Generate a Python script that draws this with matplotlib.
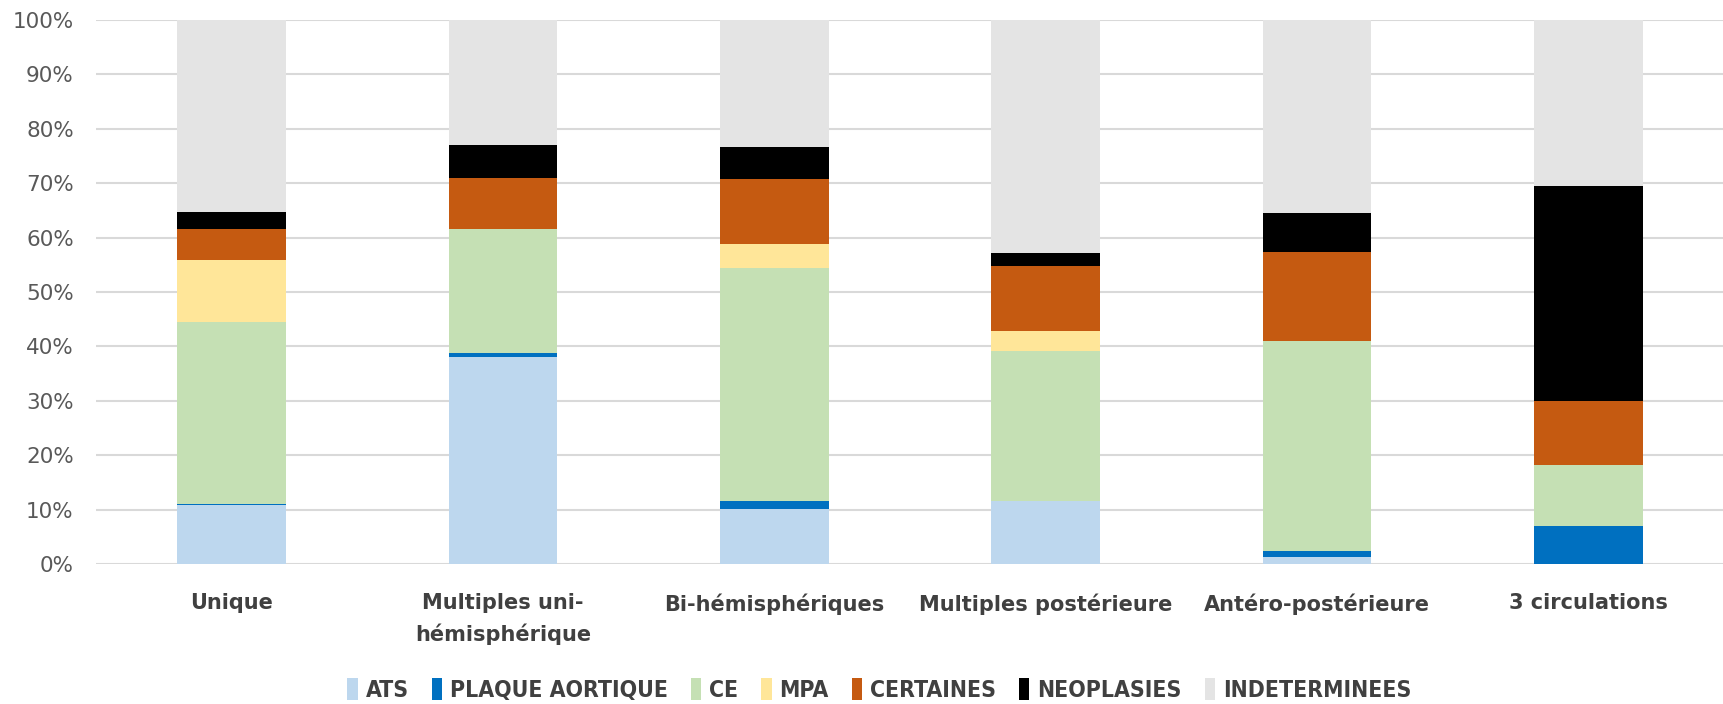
import matplotlib
matplotlib.use("Agg")
import matplotlib.pyplot as plt
import numpy as np
from matplotlib.ticker import FuncFormatter

categories = ["Unique", "Multiples uni-\nhémisphérique", "Bi-hémisphériques",
              "Multiples postérieure", "Antéro-postérieure", "3 circulations"]
series_names = ["ATS", "PLAQUE AORTIQUE", "CE", "MPA", "CERTAINES", "NEOPLASIES", "INDETERMINEES"]
ats         = [10.8, 38.1, 10.1, 11.6, 1.2, 0.0]
plaque      = [0.3, 0.7, 1.5, 0.0, 1.2, 6.9]
ce          = [33.3, 22.8, 42.8, 27.6, 38.6, 11.2]
mpa         = [11.4, 0.0, 4.4, 3.7, 0.0, 0.0]
certaines   = [5.7, 9.3, 11.9, 11.9, 16.3, 11.8]
neoplasies  = [3.2, 6.2, 5.9, 2.3, 7.2, 39.6]
indet       = [35.3, 22.9, 23.4, 42.9, 35.5, 30.5]
colors = ["#BDD7EE", "#0070C0", "#C5E0B4", "#FFE699", "#C55A11", "#000000", "#E4E4E4"]

data = [ats, plaque, ce, mpa, certaines, neoplasies, indet]

fig = plt.figure(figsize=(17.24, 7.04), dpi=100)
ax = fig.add_axes([0.0557, 0.199, 0.9443, 0.7726])

x = np.arange(len(categories))
bottom = np.zeros(len(categories))
handles = []
for name, vals, col in zip(series_names, data, colors):
    v = np.array(vals, dtype=float)
    h = ax.bar(x, v, 0.4, bottom=bottom, color=col, label=name, zorder=3, linewidth=0)
    handles.append(h)
    bottom += v

ax.set_xlim(-0.5, len(categories) - 0.5)
ax.set_ylim(0, 100)
ax.set_yticks(np.arange(0, 101, 10))
ax.yaxis.set_major_formatter(FuncFormatter(lambda v, p: f"{int(v)}%"))
ax.grid(axis="y", color="#D9D9D9", linewidth=1.5, zorder=0)
for s in ax.spines.values():
    s.set_visible(False)
ax.tick_params(axis="y", length=0, pad=16, labelsize=15.5, labelcolor="#595959")
ax.tick_params(axis="x", length=0, pad=21, labelsize=15, labelcolor="#404040")
ax.set_xticks(x)
ax.set_xticklabels(categories, fontweight="bold", linespacing=1.6)

leg = fig.legend(handles, series_names, loc="center", bbox_to_anchor=(0.510, 0.020),
                 ncol=7, frameon=False, handlelength=0.45, handleheight=1.1,
                 handletextpad=0.35, columnspacing=1.0,
                 prop=dict(size=16.5, weight="bold", stretch="condensed"))
for t in leg.get_texts():
    t.set_color("#404040")

fig.savefig("out.png", dpi=100)
